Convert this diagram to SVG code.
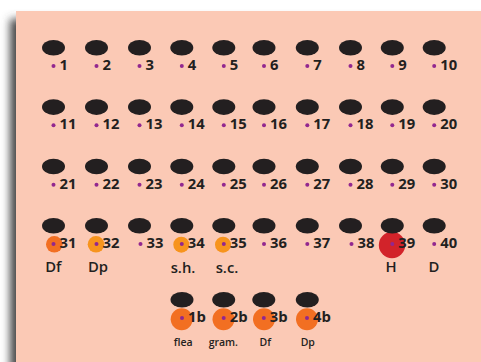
<svg xmlns="http://www.w3.org/2000/svg" width="481" height="362" viewBox="0 0 481 362">
<defs>
<filter id="sh" x="-20%" y="-20%" width="140%" height="140%"><feGaussianBlur stdDeviation="4.5"/></filter>
<style>
.hole{fill:#231f20}
.dot{fill:#92278f}
.n{font-family:"Open Sans","Noto Sans",sans-serif;font-weight:700;font-size:14.8px;fill:#231f20}
.l{font-family:"Open Sans","Noto Sans",sans-serif;font-weight:600;font-size:14.8px;fill:#231f20;text-anchor:middle}
.s{font-family:"Open Sans","Noto Sans",sans-serif;font-weight:600;font-size:10.5px;fill:#231f20;text-anchor:middle}
.o1{fill:#f26f22}
.o2{fill:#f7941d}
.r{fill:#d2232a}
</style>
</defs>
<rect width="481" height="362" fill="#fff"/>
<rect x="10" y="19" width="480" height="360" fill="#4a4a4a" filter="url(#sh)"/>
<rect x="16" y="11" width="465" height="351" fill="#fbc9b5"/>
<g id="marks">
<circle class="o1" cx="54.3" cy="244.3" r="8.3"/>
<circle class="o2" cx="96" cy="244.3" r="8.3"/>
<circle class="o2" cx="181.3" cy="244.7" r="8"/>
<circle class="o2" cx="223" cy="244.7" r="8"/>
<circle class="r" cx="392" cy="245" r="13.2"/>
<circle class="o1" cx="181.7" cy="319.2" r="11"/>
<circle class="o1" cx="223.5" cy="319.2" r="11"/>
<circle class="o1" cx="264" cy="319.2" r="11"/>
<circle class="o1" cx="307" cy="319.2" r="11"/>
</g>
<g id="r1">
<g id="n1"><ellipse class="hole" cx="53.5" cy="47.8" rx="11.5" ry="7.8"/><circle class="dot" cx="53.5" cy="66" r="2"/><text class="n" x="59.5" y="70">1</text></g>
<g id="n2"><ellipse class="hole" cx="96.5" cy="47.8" rx="11.5" ry="7.8"/><circle class="dot" cx="96.5" cy="66" r="2"/><text class="n" x="102.5" y="70">2</text></g>
<g id="n3"><ellipse class="hole" cx="139.5" cy="47.8" rx="11.5" ry="7.8"/><circle class="dot" cx="139.5" cy="66" r="2"/><text class="n" x="145.5" y="70">3</text></g>
<g id="n4"><ellipse class="hole" cx="181.8" cy="47.8" rx="11.5" ry="7.8"/><circle class="dot" cx="181.8" cy="66" r="2"/><text class="n" x="187.8" y="70">4</text></g>
<g id="n5"><ellipse class="hole" cx="223.8" cy="47.8" rx="11.5" ry="7.8"/><circle class="dot" cx="223.8" cy="66" r="2"/><text class="n" x="229.8" y="70">5</text></g>
<g id="n6"><ellipse class="hole" cx="264" cy="47.8" rx="11.5" ry="7.8"/><circle class="dot" cx="264" cy="66" r="2"/><text class="n" x="270" y="70">6</text></g>
<g id="n7"><ellipse class="hole" cx="307.3" cy="47.8" rx="11.5" ry="7.8"/><circle class="dot" cx="307.3" cy="66" r="2"/><text class="n" x="313.3" y="70">7</text></g>
<g id="n8"><ellipse class="hole" cx="350.5" cy="47.8" rx="11.5" ry="7.8"/><circle class="dot" cx="350.5" cy="66" r="2"/><text class="n" x="356.5" y="70">8</text></g>
<g id="n9"><ellipse class="hole" cx="392.3" cy="47.8" rx="11.5" ry="7.8"/><circle class="dot" cx="392.3" cy="66" r="2"/><text class="n" x="398.3" y="70">9</text></g>
<g id="n10"><ellipse class="hole" cx="434.2" cy="47.8" rx="11.5" ry="7.8"/><circle class="dot" cx="434.2" cy="66" r="2"/><text class="n" x="440.2" y="70">10</text></g>
</g>
<g id="r2">
<g id="n11"><ellipse class="hole" cx="53.5" cy="107.1" rx="11.5" ry="7.8"/><circle class="dot" cx="53.5" cy="125.3" r="2"/><text class="n" x="59.5" y="129.3">11</text></g>
<g id="n12"><ellipse class="hole" cx="96.5" cy="107.1" rx="11.5" ry="7.8"/><circle class="dot" cx="96.5" cy="125.3" r="2"/><text class="n" x="102.5" y="129.3">12</text></g>
<g id="n13"><ellipse class="hole" cx="139.5" cy="107.1" rx="11.5" ry="7.8"/><circle class="dot" cx="139.5" cy="125.3" r="2"/><text class="n" x="145.5" y="129.3">13</text></g>
<g id="n14"><ellipse class="hole" cx="181.8" cy="107.1" rx="11.5" ry="7.8"/><circle class="dot" cx="181.8" cy="125.3" r="2"/><text class="n" x="187.8" y="129.3">14</text></g>
<g id="n15"><ellipse class="hole" cx="223.8" cy="107.1" rx="11.5" ry="7.8"/><circle class="dot" cx="223.8" cy="125.3" r="2"/><text class="n" x="229.8" y="129.3">15</text></g>
<g id="n16"><ellipse class="hole" cx="264" cy="107.1" rx="11.5" ry="7.8"/><circle class="dot" cx="264" cy="125.3" r="2"/><text class="n" x="270" y="129.3">16</text></g>
<g id="n17"><ellipse class="hole" cx="307.3" cy="107.1" rx="11.5" ry="7.8"/><circle class="dot" cx="307.3" cy="125.3" r="2"/><text class="n" x="313.3" y="129.3">17</text></g>
<g id="n18"><ellipse class="hole" cx="350.5" cy="107.1" rx="11.5" ry="7.8"/><circle class="dot" cx="350.5" cy="125.3" r="2"/><text class="n" x="356.5" y="129.3">18</text></g>
<g id="n19"><ellipse class="hole" cx="392.3" cy="107.1" rx="11.5" ry="7.8"/><circle class="dot" cx="392.3" cy="125.3" r="2"/><text class="n" x="398.3" y="129.3">19</text></g>
<g id="n20"><ellipse class="hole" cx="434.2" cy="107.1" rx="11.5" ry="7.8"/><circle class="dot" cx="434.2" cy="125.3" r="2"/><text class="n" x="440.2" y="129.3">20</text></g>
</g>
<g id="r3">
<g id="n21"><ellipse class="hole" cx="53.5" cy="166.5" rx="11.5" ry="7.8"/><circle class="dot" cx="53.5" cy="184.7" r="2"/><text class="n" x="59.5" y="188.7">21</text></g>
<g id="n22"><ellipse class="hole" cx="96.5" cy="166.5" rx="11.5" ry="7.8"/><circle class="dot" cx="96.5" cy="184.7" r="2"/><text class="n" x="102.5" y="188.7">22</text></g>
<g id="n23"><ellipse class="hole" cx="139.5" cy="166.5" rx="11.5" ry="7.8"/><circle class="dot" cx="139.5" cy="184.7" r="2"/><text class="n" x="145.5" y="188.7">23</text></g>
<g id="n24"><ellipse class="hole" cx="181.8" cy="166.5" rx="11.5" ry="7.8"/><circle class="dot" cx="181.8" cy="184.7" r="2"/><text class="n" x="187.8" y="188.7">24</text></g>
<g id="n25"><ellipse class="hole" cx="223.8" cy="166.5" rx="11.5" ry="7.8"/><circle class="dot" cx="223.8" cy="184.7" r="2"/><text class="n" x="229.8" y="188.7">25</text></g>
<g id="n26"><ellipse class="hole" cx="264" cy="166.5" rx="11.5" ry="7.8"/><circle class="dot" cx="264" cy="184.7" r="2"/><text class="n" x="270" y="188.7">26</text></g>
<g id="n27"><ellipse class="hole" cx="307.3" cy="166.5" rx="11.5" ry="7.8"/><circle class="dot" cx="307.3" cy="184.7" r="2"/><text class="n" x="313.3" y="188.7">27</text></g>
<g id="n28"><ellipse class="hole" cx="350.5" cy="166.5" rx="11.5" ry="7.8"/><circle class="dot" cx="350.5" cy="184.7" r="2"/><text class="n" x="356.5" y="188.7">28</text></g>
<g id="n29"><ellipse class="hole" cx="392.3" cy="166.5" rx="11.5" ry="7.8"/><circle class="dot" cx="392.3" cy="184.7" r="2"/><text class="n" x="398.3" y="188.7">29</text></g>
<g id="n30"><ellipse class="hole" cx="434.2" cy="166.5" rx="11.5" ry="7.8"/><circle class="dot" cx="434.2" cy="184.7" r="2"/><text class="n" x="440.2" y="188.7">30</text></g>
</g>
<g id="r4">
<g id="n31"><ellipse class="hole" cx="53.5" cy="225.8" rx="11.5" ry="7.8"/><circle class="dot" cx="53.5" cy="244" r="2"/><text class="n" x="59.5" y="248">31</text></g>
<g id="n32"><ellipse class="hole" cx="96.5" cy="225.8" rx="11.5" ry="7.8"/><circle class="dot" cx="96.5" cy="244" r="2"/><text class="n" x="102.5" y="248">32</text></g>
<g id="n33"><ellipse class="hole" cx="139.5" cy="225.8" rx="11.5" ry="7.8"/><circle class="dot" cx="140.5" cy="244" r="2"/><text class="n" x="146.5" y="248">33</text></g>
<g id="n34"><ellipse class="hole" cx="181.8" cy="225.8" rx="11.5" ry="7.8"/><circle class="dot" cx="181.8" cy="244" r="2"/><text class="n" x="187.8" y="248">34</text></g>
<g id="n35"><ellipse class="hole" cx="223.8" cy="225.8" rx="11.5" ry="7.8"/><circle class="dot" cx="223.8" cy="244" r="2"/><text class="n" x="229.8" y="248">35</text></g>
<g id="n36"><ellipse class="hole" cx="264" cy="225.8" rx="11.5" ry="7.8"/><circle class="dot" cx="264" cy="244" r="2"/><text class="n" x="270" y="248">36</text></g>
<g id="n37"><ellipse class="hole" cx="307.3" cy="225.8" rx="11.5" ry="7.8"/><circle class="dot" cx="307.3" cy="244" r="2"/><text class="n" x="313.3" y="248">37</text></g>
<g id="n38"><ellipse class="hole" cx="350.5" cy="225.8" rx="11.5" ry="7.8"/><circle class="dot" cx="351.5" cy="244" r="2"/><text class="n" x="357.5" y="248">38</text></g>
<g id="n39"><ellipse class="hole" cx="392.3" cy="225.8" rx="11.5" ry="7.8"/><circle class="dot" cx="392.3" cy="244" r="2"/><text class="n" x="398.3" y="248">39</text></g>
<g id="n40"><ellipse class="hole" cx="434.2" cy="225.8" rx="11.5" ry="7.8"/><circle class="dot" cx="434.2" cy="244" r="2"/><text class="n" x="440.2" y="248">40</text></g>
</g>
<g id="labels4">
<text class="l" x="53.3" y="271.7">Df</text>
<text class="l" x="98" y="271.7">Dp</text>
<text class="l" x="183" y="272.5">s.h.</text>
<text class="l" x="227" y="272.5">s.c.</text>
<text class="l" x="391" y="271.7">H</text>
<text class="l" x="434" y="271.7">D</text>
</g>
<g id="r5">
<g id="n1b"><ellipse class="hole" cx="182" cy="299.8" rx="11.5" ry="7.8"/><circle class="dot" cx="182" cy="318" r="2"/><text class="n" x="188" y="322">1b</text></g>
<g id="n2b"><ellipse class="hole" cx="223.7" cy="299.8" rx="11.5" ry="7.8"/><circle class="dot" cx="223.7" cy="318" r="2"/><text class="n" x="229.7" y="322">2b</text></g>
<g id="n3b"><ellipse class="hole" cx="263.8" cy="299.8" rx="11.5" ry="7.8"/><circle class="dot" cx="263.8" cy="318" r="2"/><text class="n" x="269.8" y="322">3b</text></g>
<g id="n4b"><ellipse class="hole" cx="307.3" cy="299.8" rx="11.5" ry="7.8"/><circle class="dot" cx="307" cy="318" r="2"/><text class="n" x="313" y="322">4b</text></g>
</g>
<g id="labels5">
<text class="s" x="183.2" y="346">flea</text>
<text class="s" x="223.3" y="346">gram.</text>
<text class="s" x="265.3" y="346">Df</text>
<text class="s" x="307.8" y="346">Dp</text>
</g>
<g id="connectors"/>
</svg>
